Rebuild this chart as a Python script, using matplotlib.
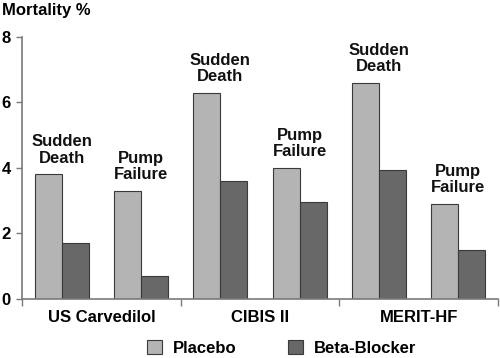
import numpy as np
import matplotlib
matplotlib.use("Agg")
import matplotlib.pyplot as plt
from matplotlib.patches import Patch

# -------------------------------
# Datos
# -------------------------------
trials = ["US Carvedilol", "CIBIS II", "MERIT-HF"]
outcomes = ["Sudden\nDeath", "Pump\nFailure"]
series = ["Placebo", "Beta-Blocker"]

placebo_sd = [3.8, 6.3, 6.6]
beta_sd = [1.7, 3.6, 3.95]
placebo_pf = [3.3, 4.0, 2.9]
beta_pf = [0.7, 2.95, 1.5]

y_ticks = [0, 2, 4, 6, 8]

col_placebo = "#b4b4b4"
col_beta = "#686868"
edge = "#3a3a3a"
spine_col = "#7a7a7a"
FS = 12

plt.rcParams["font.family"] = ["Liberation Sans", "DejaVu Sans"]
plt.rcParams["font.weight"] = "bold"

fig = plt.figure(figsize=(5.0, 3.58), dpi=100)
ax = fig.add_axes([0.044, 0.165, 0.952, 0.732])

w = 0.17
x = np.arange(len(trials))
for offset, pl, bb, lab in [(0.25, placebo_sd, beta_sd, outcomes[0]),
                            (0.75, placebo_pf, beta_pf, outcomes[1])]:
    c = x + offset
    ax.bar(c - w / 2, pl, w, color=col_placebo, edgecolor=edge, linewidth=0.8)
    ax.bar(c + w / 2, bb, w, color=col_beta, edgecolor=edge, linewidth=0.8)
    for xi, p, b in zip(c, pl, bb):
        ax.text(xi, max(p, b) + 0.27, lab, ha="center", va="bottom",
                fontsize=FS, fontweight="bold", linespacing=1.1, color="#111111")

ax.set_xlim(0, 3)
ax.set_ylim(0, 8)
ax.set_yticks(y_ticks)
ax.set_yticklabels([str(t) for t in y_ticks], fontsize=FS, fontweight="bold")
ax.set_xticks(x + 0.5)
ax.set_xticklabels(trials, fontsize=FS, fontweight="bold")
ax.set_xticks([0, 1, 2, 3], minor=True)
ax.tick_params(axis="x", which="major", length=0, pad=8)
ax.tick_params(axis="x", which="minor", length=5, color=spine_col, width=1)
ax.tick_params(axis="y", length=4, color=spine_col, width=1, pad=4)

for s in ["top", "right"]:
    ax.spines[s].set_visible(False)
for s in ["left", "bottom"]:
    ax.spines[s].set_color(spine_col)
    ax.spines[s].set_linewidth(1.2)

fig.text(0.004, 0.972, "Mortality %", ha="left", va="center",
         fontsize=FS, fontweight="bold")

handles = [Patch(facecolor=col_placebo, edgecolor=edge, linewidth=0.8),
           Patch(facecolor=col_beta, edgecolor=edge, linewidth=0.8)]
fig.legend(handles, series, loc="center", bbox_to_anchor=(0.564, 0.028),
           ncol=2, frameon=False, prop={"size": FS, "weight": "bold"},
           handlelength=0.9, handleheight=0.95, handletextpad=0.65,
           columnspacing=3.1, borderpad=0)

fig.savefig("out.png", dpi=100)
